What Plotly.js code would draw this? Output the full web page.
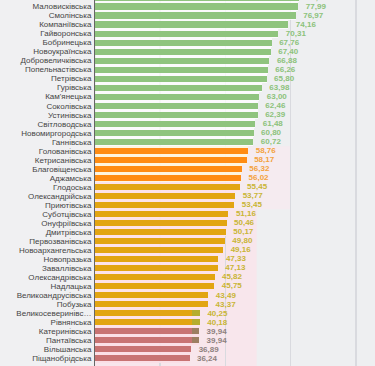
<!DOCTYPE html>
<html>
<head>
<meta charset="utf-8">
<script src="https://cdn.plot.ly/plotly-3.0.1.min.js"></script>
<style>
html,body{margin:0;padding:0;overflow:hidden;background:#f0f0f2;width:375px;height:366px;}
#wrap{position:absolute;left:0;top:-7px;width:375px;height:373px;}
</style>
</head>
<body>
<div id="wrap"></div>
<script>
// Category labels (top to bottom)
const names = [
  "Знам'янська",
  "Маловисківська","Смолінська","Компаніївська","Гайворонська","Бобринецька",
  "Новоукраїнська","Добровеличківська","Попельнастівська","Петрівська","Гурівська",
  "Кам'янецька","Соколівська","Устинівська","Світловодська","Новомиргородська",
  "Ганнівська","Голованівська","Кетрисанівська","Благовіщенська","Аджамська",
  "Глодоська","Олександрійська","Приютівська","Суботцівська","Онуфріївська",
  "Дмитрівська","Первозванівська","Новоархангельська","Новопразька","Заваллівська",
  "Олександрівська","Надлацька","Великоандрусівська","Побузька","Великосеверинівс…",
  "Рівнянська","Катеринівська","Пантаївська","Вільшанська","Піщанобрідська"
];
// Values
const values = [
  78.37,
  77.99,76.97,74.16,70.31,67.76,
  67.40,66.88,66.26,65.80,63.98,
  63.00,62.46,62.39,61.48,60.80,
  60.72,58.76,58.17,56.32,56.02,
  55.45,53.77,53.45,51.16,50.46,
  50.17,49.80,49.16,47.33,47.13,
  45.82,45.75,43.49,43.37,40.25,
  40.18,39.94,39.94,36.89,36.24
];
// Colour group of each bar
const groups = [
  "g","g","g","g","g","g","g","g","g","g","g","g","g","g","g","g","g",
  "o","o","o","o",
  "y","y","y","y","y","y","y","y","y","y","y","y","y","y","y","y",
  "r","r","r","r"
];
// Start of the darker tail segment seen on some bars (null = none)
const tailStart = [
  null,null,null,null,null,null,null,null,null,null,null,null,null,null,null,null,null,
  null,null,null,null,
  null,null,null,null,null,null,null,null,null,null,null,null,null,null,37.2,37.2,
  37.2,37.2,null,null
];

const barCol  = {g:"#8fc47e", o:"#ff8c14", y:"#e2a512", r:"#c87373"};
const textCol = {g:"#8cc27b", o:"#f3a23e", y:"#c9b535", r:"#8e817e"};
const gapCol  = {g:"rgba(255,255,255,0.75)", o:"rgba(255,246,222,0.9)", y:"rgba(253,226,234,0.9)", r:"rgba(251,222,230,0.9)"};
const tailCol = {y:"#b6ad2e", r:"#9d7f62"};

const idx = names.map((_, i) => i);
const fmt = v => "\u00a0\u00a0" + v.toFixed(2).replace(".", ",");

const ghost = {
  type: "bar", orientation: "h", y: idx, x: values.map(v => v - 0.4), base: 0.4,
  width: 1, marker: {color: groups.map(g => gapCol[g])},
  hoverinfo: "skip", showlegend: false
};
const main = {
  type: "bar", orientation: "h", y: idx, x: values, width: 0.68,
  marker: {color: groups.map(g => barCol[g])},
  text: values.map(fmt), textposition: "outside", cliponaxis: true, constraintext: "none",
  textfont: {family: "Liberation Sans, Arial, sans-serif", size: 8, weight: "bold", color: groups.map(g => textCol[g])},
  showlegend: false
};
const tail = {
  type: "bar", orientation: "h", y: idx,
  x: values.map((v, i) => tailStart[i] === null ? null : v - tailStart[i]),
  base: tailStart.map(t => t === null ? 0 : t), width: 0.68,
  marker: {color: groups.map(g => tailCol[g] || "rgba(0,0,0,0)")},
  hoverinfo: "skip", showlegend: false
};

const layout = {
  width: 375, height: 373,
  margin: {l: 95, r: 0, t: 0, b: 0, pad: 0},
  paper_bgcolor: "#f0f0f2", plot_bgcolor: "#eeeff1",
  barmode: "overlay", bargap: 0,
  font: {family: "Liberation Sans, Arial, sans-serif", size: 8, color: "#444"},
  xaxis: {range: [0, 107.36], tickvals: [0, 25, 50, 75, 100], showticklabels: false,
          gridcolor: "#d9dadf", gridwidth: 1.5, zeroline: false, fixedrange: true},
  yaxis: {range: [40.875, -0.5], tickvals: idx, ticktext: names, showgrid: false,
          zeroline: false, showline: true, linecolor: "#666", linewidth: 1,
          layer: "below traces", ticks: "", ticklabelstandoff: 1,
          tickfont: {size: 8, color: "#444"}},
  shapes: [
    {type: "rect", layer: "below", xref: "x", yref: "y", x0: 0, x1: 75, y0: 16.5, y1: 23.5,
     fillcolor: "rgba(252,232,238,0.55)", line: {width: 0}},
    {type: "rect", layer: "below", xref: "x", yref: "y", x0: 0, x1: 62, y0: 23.5, y1: 40.875,
     fillcolor: "rgba(252,226,234,0.7)", line: {width: 0}}
  ]
};

Plotly.newPlot("wrap", [ghost, main, tail], layout, {displayModeBar: false, staticPlot: true});
</script>
</body>
</html>
